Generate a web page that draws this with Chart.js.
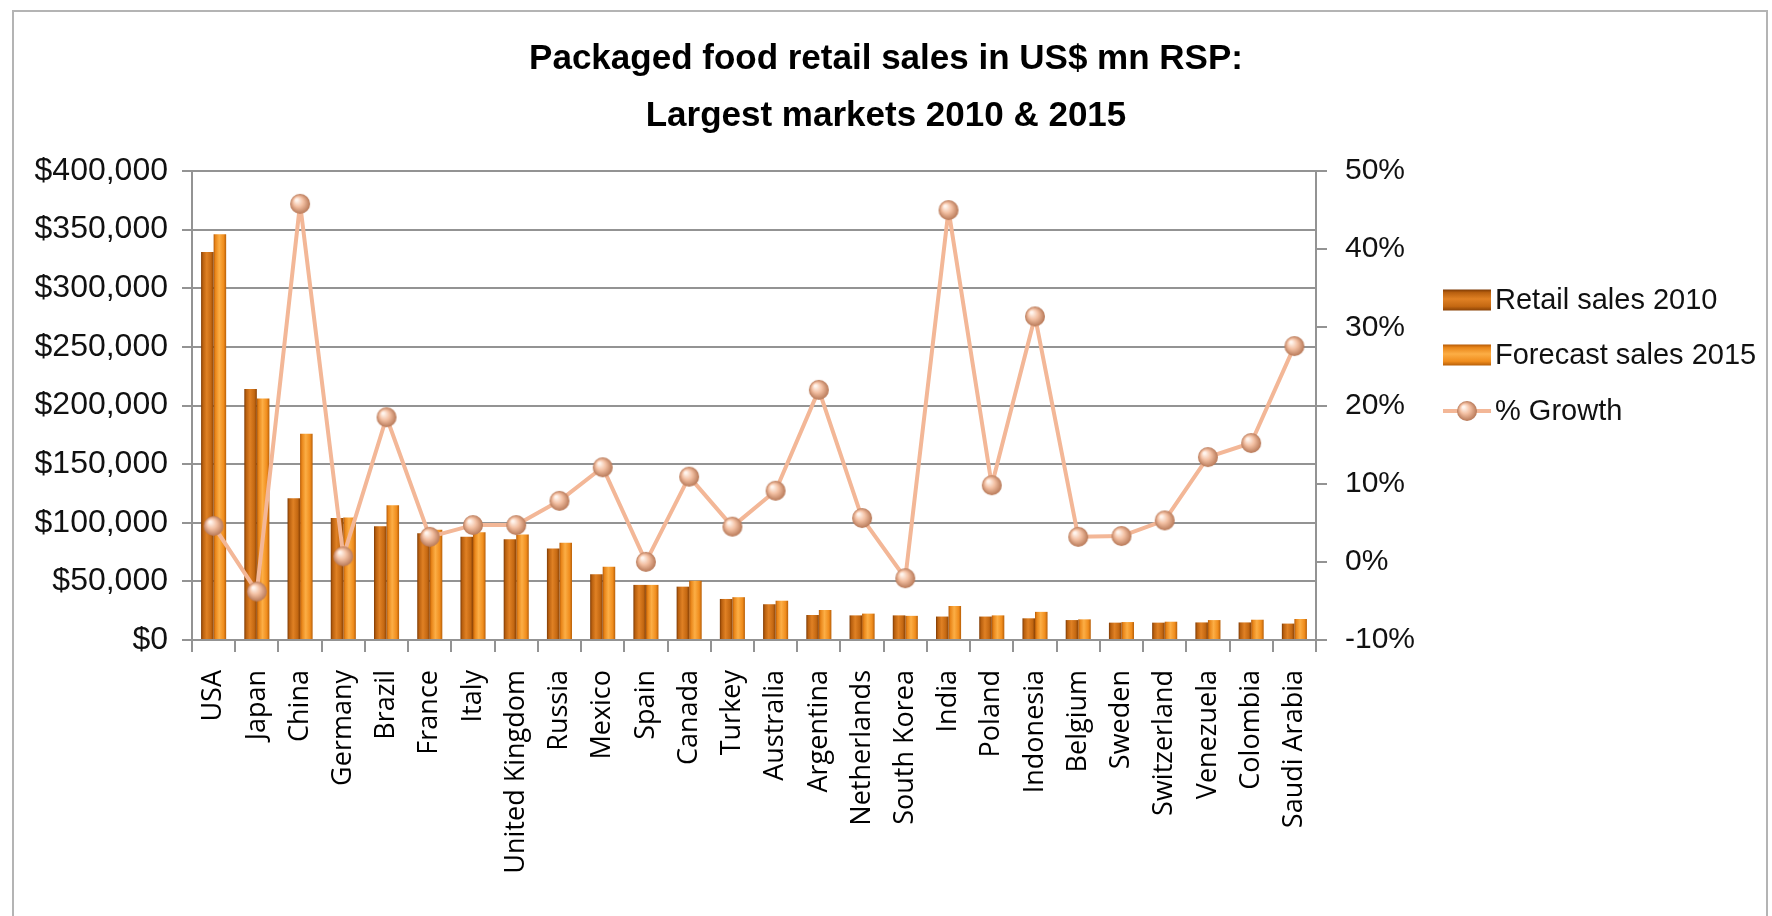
<!DOCTYPE html>
<html>
<head>
<meta charset="utf-8">
<title>Packaged food retail sales</title>
<script src="https://cdn.jsdelivr.net/npm/chart.js@4.4.1/dist/chart.umd.min.js"></script>
<style>
	html, body { margin: 0; padding: 0; background: #fff; overflow: hidden; }
	#wrap { position: relative; width: 1772px; height: 916px; }
	#frame { position: absolute; left: 12px; top: 10px; width: 1756px; height: 920px; border: 2px solid #b4b4b4; border-bottom: none; box-sizing: border-box; }
	#chart { position: absolute; left: 0; top: 0; }
</style>
</head>
<body>
<div id="wrap">
	<div id="frame"></div>
	<canvas id="chart" width="1772" height="916"></canvas>
</div>
<script>
const COUNTRIES = ["USA", "Japan", "China", "Germany", "Brazil", "France", "Italy", "United Kingdom", "Russia", "Mexico",
	"Spain", "Canada", "Turkey", "Australia", "Argentina", "Netherlands", "South Korea", "India", "Poland", "Indonesia",
	"Belgium", "Sweden", "Switzerland", "Venezuela", "Colombia", "Saudi Arabia"];

// US$ mn RSP
const SALES_2010 = [331000, 214000, 121000, 104000, 97000, 91000, 88000, 86000, 78000, 56000,
	47000, 45500, 35000, 30500, 21300, 21000, 21000, 20000, 20000, 18500,
	17000, 14800, 14800, 15000, 15000, 14000];
const SALES_2015 = [346000, 206000, 176000, 104500, 115000, 94000, 92000, 90000, 83000, 62500,
	47000, 50500, 36500, 33500, 25600, 22500, 20600, 29000, 21000, 24000,
	17600, 15300, 15600, 17000, 17300, 17900];
const GROWTH = [4.6, -3.8, 45.8, 0.7, 18.5, 3.2, 4.7, 4.7, 7.8, 12.1,
	0.0, 10.9, 4.5, 9.1, 22.0, 5.6, -2.1, 45.0, 9.8, 31.4,
	3.2, 3.3, 5.3, 13.4, 15.2, 27.6];

const SALES_TICKS = { min: 0, max: 400000, step: 50000 };
const GROWTH_TICKS = { min: -10, max: 50, step: 10 };

const TITLE_LINES = ["Packaged food retail sales in US$ mn RSP:", "Largest markets 2010 & 2015"];

const TEXT_FONT = "'Liberation Sans', Arial, sans-serif";
const LABEL_FONT = "'Open Sans', 'DejaVu Sans', sans-serif";
const GRID_GREY = "#939393";
const LINE_COLOR = "#f3b797";

const CAT_PCT = 0.58;

// shaded sphere used as the marker of the growth line
const makeSphere = (r) => {
	const c = document.createElement("canvas");
	c.width = c.height = r * 2 + 2;
	const g = c.getContext("2d");
	const m = r + 1;
	const grad = g.createRadialGradient(m - r * 0.35, m - r * 0.4, r * 0.1, m, m, r);
	grad.addColorStop(0, "#fff5ee");
	grad.addColorStop(0.45, "#f3c0a3");
	grad.addColorStop(1, "#b77857");
	g.fillStyle = grad;
	g.beginPath();
	g.arc(m, m, r, 0, Math.PI * 2);
	g.fill();
	return c;
};
const SPHERE = makeSphere(10);

const BAR_SHADES = [
	["#7e3a04", "#b9600f", "#e08124", "#c46812", "#8a4205"],
	["#b55a06", "#e9861a", "#fcae45", "#f08d1d", "#b85f08"],
];

const shadeStops = (grad, shades) => {
	[0, 0.15, 0.45, 0.8, 1].forEach((p, i) => grad.addColorStop(p, shades[i]));
	return grad;
};

// horizontal shading across each bar, placed from the category scale
const barFill = (side) => (ctx) => {
	const chart = ctx.chart;
	const xs = chart.scales.x;
	if (ctx.type !== "data" || !xs || !chart.chartArea) return BAR_SHADES[side][2];
	const center = xs.getPixelForValue(ctx.dataIndex);
	const barW = (xs.width / COUNTRIES.length) * CAT_PCT / 2;
	const left = side === 0 ? center - barW : center;
	return shadeStops(chart.ctx.createLinearGradient(left, 0, left + barW, 0), BAR_SHADES[side]);
};

const sideLegend = {
	id: "sideLegend",
	afterDraw(chart) {
		const { ctx, chartArea } = chart;
		const x0 = chartArea.right + 127;
		const rows = [chartArea.top + 129, chartArea.top + 184, chartArea.top + 240];
		const sw = 48, sh = 21;
		ctx.save();
		chart.data.datasets.forEach((ds, i) => {
			const y = rows[i];
			if (ds.type === "line") {
				ctx.strokeStyle = LINE_COLOR;
				ctx.lineWidth = 4;
				ctx.beginPath();
				ctx.moveTo(x0, y);
				ctx.lineTo(x0 + sw, y);
				ctx.stroke();
				ctx.drawImage(SPHERE, x0 + sw / 2 - SPHERE.width / 2, y - SPHERE.height / 2);
			} else {
				const g = ctx.createLinearGradient(0, y - sh / 2, 0, y + sh / 2);
				shadeStops(g, BAR_SHADES[i]);
				ctx.fillStyle = g;
				ctx.fillRect(x0, y - sh / 2, sw, sh);
			}
			ctx.fillStyle = "#111";
			ctx.font = "29px " + TEXT_FONT;
			ctx.textBaseline = "middle";
			ctx.textAlign = "left";
			ctx.fillText(ds.label, x0 + sw + 4, y + 1);
		});
		ctx.restore();
	},
};

const CHART_DATA = {
	labels: COUNTRIES,
	datasets: [
		{
			type: "bar",
			label: "Retail sales 2010",
			data: SALES_2010,
			yAxisID: "y",
			order: 2,
			backgroundColor: barFill(0),
			borderWidth: 0,
			categoryPercentage: CAT_PCT,
			barPercentage: 1,
		},
		{
			type: "bar",
			label: "Forecast sales 2015",
			data: SALES_2015,
			yAxisID: "y",
			order: 2,
			backgroundColor: barFill(1),
			borderWidth: 0,
			categoryPercentage: CAT_PCT,
			barPercentage: 1,
		},
		{
			type: "line",
			label: "% Growth",
			data: GROWTH,
			yAxisID: "y1",
			order: 1,
			borderColor: LINE_COLOR,
			borderWidth: 4,
			borderJoinStyle: "round",
			borderCapStyle: "round",
			tension: 0,
			pointStyle: SPHERE,
			pointRadius: 10,
		},
	],
};

const CHART_CONFIG = {
	data: CHART_DATA,
	plugins: [sideLegend],
	options: {
		responsive: false,
		animation: false,
		layout: { padding: 0 },
		scales: {
			x: {
				offset: true,
				afterFit: (s) => { s.height = 276; },
				grid: {
					offset: true,
					drawOnChartArea: false,
					drawTicks: true,
					tickLength: 12,
					color: GRID_GREY,
					lineWidth: 2,
				},
				border: { display: true, color: GRID_GREY, width: 2 },
				ticks: {
					autoSkip: false,
					minRotation: 90,
					maxRotation: 90,
					padding: 18,
					color: "#000",
					font: { family: LABEL_FONT, size: 27 },
				},
			},
			y: {
				position: "left",
				min: SALES_TICKS.min,
				max: SALES_TICKS.max,
				afterFit: (s) => { s.width = 192; },
				grid: { color: GRID_GREY, lineWidth: 2, tickLength: 10 },
				border: { display: true, color: GRID_GREY, width: 2 },
				ticks: {
					stepSize: SALES_TICKS.step,
					padding: 14,
					color: "#111",
					font: { family: TEXT_FONT, size: 32 },
					callback: (v) => "$" + v.toLocaleString("en-US"),
				},
			},
			y1: {
				position: "right",
				min: GROWTH_TICKS.min,
				max: GROWTH_TICKS.max,
				afterFit: (s) => { s.width = 1772 - 1316; },
				grid: { drawOnChartArea: false, color: GRID_GREY, lineWidth: 2, tickLength: 11 },
				border: { display: true, color: GRID_GREY, width: 2 },
				ticks: {
					stepSize: GROWTH_TICKS.step,
					padding: 18,
					color: "#111",
					font: { family: TEXT_FONT, size: 30 },
					callback: (v) => v + "%",
				},
			},
		},
		plugins: {
			legend: { display: false },
			tooltip: { enabled: false },
			title: {
				display: true,
				text: TITLE_LINES,
				color: "#000",
				font: { family: TEXT_FONT, size: 35, weight: "bold", lineHeight: 57 / 35 },
				padding: { top: 31, bottom: 26 },
			},
		},
	},
};

new Chart(document.getElementById("chart"), CHART_CONFIG);
</script>
</body>
</html>
